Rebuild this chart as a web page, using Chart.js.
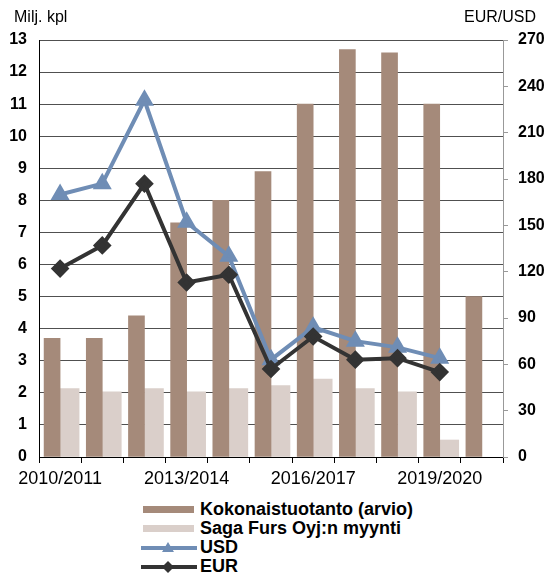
<!DOCTYPE html>
<html>
<head>
<meta charset="utf-8">
<script src="https://cdn.jsdelivr.net/npm/chart.js@4/dist/chart.umd.min.js"></script>
<style>
  body { margin: 0; background: #fff; font-family: Arial, "Liberation Sans", sans-serif; }
  #wrap { position: relative; width: 552px; height: 576px; }
  #legend { position: absolute; left: 140px; top: 500px; }
  .row { height: 19px; display: flex; align-items: center; font-weight: bold; font-size: 18px; color: #000; }
  .sym { width: 58px; height: 14px; margin-right: 2px; display: flex; align-items: center; }
</style>
</head>
<body>
<div id="wrap">
  <canvas id="chart" width="552" height="495"></canvas>
  <div id="legend"></div>
</div>
<script>
var seasons = ['2010/2011', '2011/2012', '2012/2013', '2013/2014', '2014/2015', '2015/2016',
  '2016/2017', '2017/2018', '2018/2019', '2019/2020', '2020/2021'];
var totalProduction = [3.7, 3.7, 4.4, 7.3, 8.0, 8.9, 11.0, 12.7, 12.6, 11.0, 5.0];
var sagaSales = [2.13, 2.03, 2.13, 2.03, 2.13, 2.23, 2.43, 2.13, 2.03, 0.53, null];
var usdPrice = [170, 177, 231, 152, 130, 63, 84, 75, 71, 64, null];
var eurPrice = [122, 137, 177, 113, 118, 57, 78, 63, 64, 55, null];

var font = 'Arial, "Liberation Sans", sans-serif';

var cornerTitles = {
  id: 'cornerTitles',
  afterDraw: function(chart) {
    var ctx = chart.ctx;
    ctx.save();
    ctx.fillStyle = '#000';
    ctx.font = '16px ' + font;
    ctx.textBaseline = 'middle';
    ctx.textAlign = 'left';
    ctx.fillText('Milj. kpl', 14, 18);
    ctx.textAlign = 'right';
    ctx.fillText('EUR/USD', 536, 18);
    ctx.restore();
  }
};

var chart = new Chart(document.getElementById('chart'), {
  type: 'bar',
  data: {
    labels: seasons,
    datasets: [
      {
        label: 'Kokonaistuotanto (arvio)',
        data: totalProduction,
        backgroundColor: '#a58a7a',
        barThickness: 16,
        yAxisID: 'y',
        order: 2
      },
      {
        label: 'Saga Furs Oyj:n myynti',
        data: sagaSales,
        backgroundColor: '#dacfca',
        barThickness: 19,
        yAxisID: 'y',
        order: 2
      },
      {
        type: 'line',
        label: 'USD',
        data: usdPrice,
        borderColor: '#6f8db5',
        backgroundColor: '#6f8db5',
        borderWidth: 4,
        pointStyle: 'triangle',
        pointRadius: 7,
        pointHoverRadius: 7,
        tension: 0,
        yAxisID: 'y2',
        order: 1
      },
      {
        type: 'line',
        label: 'EUR',
        data: eurPrice,
        borderColor: '#333333',
        backgroundColor: '#333333',
        borderWidth: 4,
        pointStyle: 'rectRot',
        pointRadius: 6.5,
        pointHoverRadius: 6.5,
        tension: 0,
        yAxisID: 'y2',
        order: 0
      }
    ]
  },
  options: {
    responsive: false,
    animation: false,
    layout: { padding: { top: 40, right: 0, left: 0, bottom: 0 } },
    plugins: {
      legend: { display: false },
      tooltip: { enabled: false }
    },
    scales: {
      x: {
        offset: true,
        grid: { offset: true, drawOnChartArea: false, color: '#000', tickLength: 6 },
        border: { color: '#000', width: 1 },
        ticks: {
          autoSkip: false,
          maxRotation: 0,
          padding: 5,
          color: '#000',
          font: { family: font, size: 18 },
          callback: function(v, i) { return i % 3 === 0 ? this.getLabelForValue(v) : ''; }
        },
        afterFit: function(s) { s.height = 38; }
      },
      y: {
        position: 'left',
        min: 0,
        max: 13,
        grid: { color: '#505050', drawTicks: false },
        border: { color: '#000', width: 1 },
        ticks: {
          stepSize: 1,
          padding: 12,
          color: '#000',
          font: { family: font, size: 16, weight: 'bold' }
        },
        afterFit: function(s) { s.width = 39; }
      },
      y2: {
        position: 'right',
        min: 0,
        max: 270,
        grid: { drawOnChartArea: false, color: '#999', tickLength: 5 },
        border: { color: '#999', width: 1 },
        ticks: {
          stepSize: 30,
          padding: 10,
          color: '#000',
          font: { family: font, size: 16, weight: 'bold' }
        },
        afterFit: function(s) { s.width = 49; }
      }
    }
  },
  plugins: [cornerTitles]
});

// legend built from the datasets, one entry per row
var legend = document.getElementById('legend');
chart.data.datasets.forEach(function(ds) {
  var row = document.createElement('div');
  row.className = 'row';
  var sym;
  if (ds.type === 'line') {
    var marker = ds.pointStyle === 'triangle'
      ? '<polygon points="28,1 34,11 22,11" fill="' + ds.borderColor + '"/>'
      : '<polygon points="28,1 34,7 28,13 22,7" fill="' + ds.borderColor + '"/>';
    sym = '<svg class="sym" width="58" height="14" viewBox="0 0 58 14">' +
      '<line x1="1" y1="7" x2="57" y2="7" stroke="' + ds.borderColor + '" stroke-width="4"/>' +
      marker + '</svg>';
  } else {
    sym = '<div class="sym"><div style="margin-left:3px;width:51px;height:7px;background:' +
      ds.backgroundColor + '"></div></div>';
  }
  row.innerHTML = sym + '<span>' + ds.label + '</span>';
  legend.appendChild(row);
});
</script>
</body>
</html>
